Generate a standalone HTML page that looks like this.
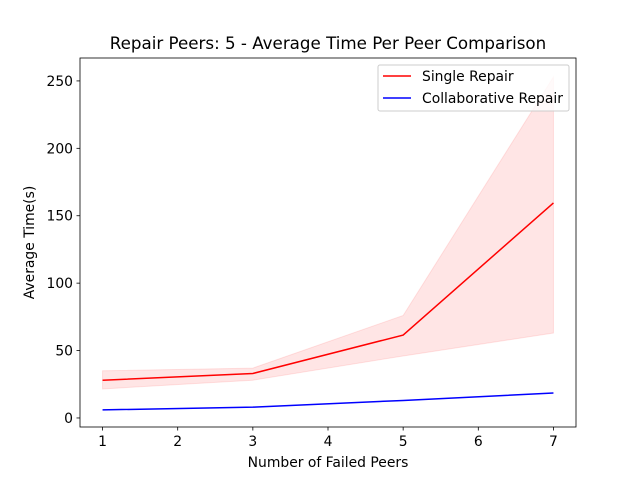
<!DOCTYPE html>
<html><head><meta charset="utf-8"><style>
body{margin:0;background:#fff}
svg text{font-family:"DejaVu Sans","Liberation Sans",sans-serif;fill:#000}
</style></head><body>
<svg width="640" height="480" viewBox="0 0 640 480">
<rect width="640" height="480" fill="#fff"/>
<g id="plot"></g>
</svg>
<script>
const xs=[1,3,5,7];
const singleMean=[28,33,61.5,159.5];
const singleUpper=[35,37,76,253];
const singleLower=[21.5,28,46,63];
const collabMean=[6,8,13,18.5];
const xTicks=[1,2,3,4,5,6,7];
const yTicks=[0,50,100,150,200,250];
const L=80,R=576,T=58,B=427;
const x0=0.7,x1=7.3,y0=-6.7,y1=267;
const X=v=>L+(v-x0)/(x1-x0)*(R-L);
const Y=v=>B-(v-y0)/(y1-y0)*(B-T);
const g=document.getElementById('plot');
const NS='http://www.w3.org/2000/svg';
function mk(t,a,p){const e=document.createElementNS(NS,t);for(const k in a)e.setAttribute(k,a[k]);(p||g).appendChild(e);return e;}
let pts=xs.map((v,i)=>X(v)+','+Y(singleUpper[i])).concat(xs.map((v,i)=>X(v)+','+Y(singleLower[i])).reverse());
let band=mk('polygon',{points:pts.join(' '),fill:'#ff0000','fill-opacity':0.1,stroke:'#ff0000','stroke-opacity':0.1});


let l1=mk('polyline',{points:xs.map((v,i)=>X(v)+','+Y(singleMean[i])).join(' '),fill:'none',stroke:'#ff0000','stroke-width':1.5});


let l2=mk('polyline',{points:xs.map((v,i)=>X(v)+','+Y(collabMean[i])).join(' '),fill:'none',stroke:'#0000ff','stroke-width':1.5});


let fr=mk('rect',{x:L,y:T,width:R-L,height:B-T,fill:'none',stroke:'#000','stroke-width':0.8});


xTicks.forEach(v=>{mk('line',{x1:X(v),x2:X(v),y1:B,y2:B+3.5,stroke:'#000','stroke-width':0.8});
 let t=mk('text',{x:X(v),y:B+19,'text-anchor':'middle','font-size':13.9});t.textContent=v;
 
 });
yTicks.forEach(v=>{mk('line',{x1:L-3.5,x2:L,y1:Y(v),y2:Y(v),stroke:'#000','stroke-width':0.8});
 let t=mk('text',{x:L-7,y:Y(v)+5,'text-anchor':'end','font-size':13.9});t.textContent=v;
 
 });
let tt=mk('text',{x:(L+R)/2,y:49,'text-anchor':'middle','font-size':16.7});tt.textContent='Repair Peers: 5 - Average Time Per Peer Comparison';


let xt=mk('text',{x:(L+R)/2,y:467,'text-anchor':'middle','font-size':13.9});xt.textContent='Number of Failed Peers';


let yt=mk('text',{x:0,y:0,'text-anchor':'middle','font-size':13.9,transform:'translate(34,'+((T+B)/2)+') rotate(-90)'});yt.textContent='Average Time(s)';


let lg=mk('g',{});


mk('rect',{x:378,y:65,width:191,height:46,rx:2,fill:'#fff','fill-opacity':0.8,stroke:'#ccc'},lg);
[['Single Repair','#ff0000',76],['Collaborative Repair','#0000ff',98]].forEach(([n,c,y])=>{
 mk('line',{x1:383,x2:411,y1:y,y2:y,stroke:c,'stroke-width':1.5},lg);
 let t=mk('text',{x:422,y:y+5,'font-size':13.9},lg);t.textContent=n;
 
 });
</script>
</body></html>
